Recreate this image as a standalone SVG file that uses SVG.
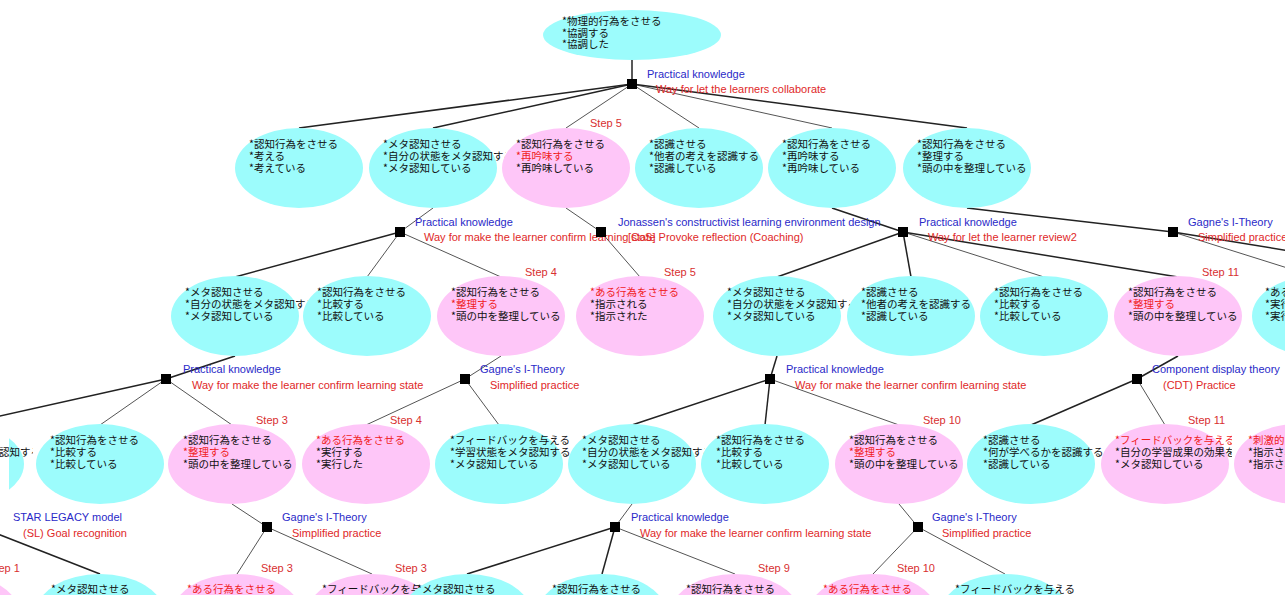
<svg xmlns="http://www.w3.org/2000/svg" width="1285" height="595" viewBox="0 0 1285 595">
<style>
.cy{fill:#9cfcfc}
.pk{fill:#fec6f8}
.t{font-family:"Noto Sans CJK JP","Noto Sans CJK SC",sans-serif;font-size:10.5px;fill:#111}
.r{fill:#f01c1c}
.lb{font-family:"Liberation Sans",Arial,sans-serif;font-size:11px;fill:#2a2ac8}
.lr{font-family:"Liberation Sans",Arial,sans-serif;font-size:11px;fill:#e02828}
.st{font-family:"Liberation Sans",Arial,sans-serif;font-size:11px;fill:#d83030}
.k{stroke:#222;stroke-width:1.5;fill:none}
.g{stroke:#555;stroke-width:1;fill:none}
.sq{fill:#000}
</style>
<defs>
<clipPath id="cA2"><rect x="383" y="128" width="123" height="80"/></clipPath>
<clipPath id="cB1"><rect x="185" y="276" width="123" height="80"/></clipPath>
<clipPath id="cB5"><rect x="727" y="276" width="123" height="80"/></clipPath>
<clipPath id="cC0"><rect x="-90" y="424" width="123" height="80"/></clipPath>
<clipPath id="cC0e"><rect x="9" y="420" width="100" height="90"/></clipPath>
<clipPath id="cC5"><rect x="582" y="424" width="123" height="80"/></clipPath>
<clipPath id="cC9"><rect x="1115" y="424" width="117" height="80"/></clipPath>
</defs>

<g id="connectors">
<path class="k" d="M632 60L632 84"/>
<path class="k" d="M632 84L299 128"/>
<path class="k" d="M632 84L433 128"/>
<path class="g" d="M632 84L566 128"/>
<path class="g" d="M632 84L699 128"/>
<path class="g" d="M632 84L832 128"/>
<path class="k" d="M632 84L967 128"/>
<path class="g" d="M433 208L400 232"/>
<path class="g" d="M566 208L601 232"/>
<path class="k" d="M832 208L903 232"/>
<path class="k" d="M967 208L1173 232"/>
<path class="k" d="M400 232L235 277"/>
<path class="g" d="M400 232L367 277"/>
<path class="g" d="M400 232L501 277"/>
<path class="g" d="M601 232L640 277"/>
<path class="k" d="M903 232L777 277"/>
<path class="k" d="M903 232L911 277"/>
<path class="g" d="M903 232L1044 277"/>
<path class="k" d="M903 232L1178 277"/>
<path class="g" d="M1173 232L1316 277"/>
<path class="k" d="M1173 232L1450 277"/>
<path class="k" d="M235 356L166 379"/>
<path class="g" d="M501 356L465 379"/>
<path class="k" d="M777 356L770 379"/>
<path class="k" d="M1178 356L1137 379"/>
<path class="k" d="M166 379L-40 425"/>
<path class="g" d="M166 379L100 425"/>
<path class="g" d="M166 379L232 425"/>
<path class="g" d="M465 379L366 425"/>
<path class="g" d="M465 379L499 425"/>
<path class="k" d="M770 379L632 425"/>
<path class="k" d="M770 379L765 425"/>
<path class="g" d="M770 379L899 425"/>
<path class="k" d="M1137 379L1031 425"/>
<path class="g" d="M1137 379L1165 425"/>
<path class="g" d="M232 504L267 527"/>
<path class="g" d="M632 504L615 527"/>
<path class="g" d="M899 504L918 527"/>
<path class="k" d="M-20 527L100 574"/>
<path class="g" d="M267 527L237 574"/>
<path class="g" d="M267 527L372 574"/>
<path class="k" d="M615 527L467 574"/>
<path class="k" d="M615 527L602 574"/>
<path class="g" d="M615 527L735 574"/>
<path class="g" d="M918 527L873 574"/>
<path class="g" d="M918 527L1005 574"/>
</g>

<g id="relations">
<g id="S0"><rect class="sq" x="627" y="79" width="10" height="10"/><text class="lb" x="647" y="78">Practical knowledge</text><text class="lr" x="656" y="93">Way for let the learners collaborate</text></g>
<g id="S1"><rect class="sq" x="395" y="227" width="10" height="10"/><text class="lb" x="415" y="226">Practical knowledge</text><text class="lr" x="424" y="241">Way for make the learner confirm learning state</text></g>
<g id="S2"><rect class="sq" x="596" y="227" width="10" height="10"/><text class="lb" x="618" y="226">Jonassen's constructivist learning environment design</text><text class="lr" x="628" y="241">[CoS] Provoke reflection (Coaching)</text></g>
<g id="S3"><rect class="sq" x="898" y="227" width="10" height="10"/><text class="lb" x="919" y="226">Practical knowledge</text><text class="lr" x="928" y="241">Way for let the learner review2</text></g>
<g id="S4"><rect class="sq" x="1168" y="227" width="10" height="10"/><text class="lb" x="1188" y="226">Gagne's I-Theory</text><text class="lr" x="1198" y="241">Simplified practice</text></g>
<g id="S5"><rect class="sq" x="161" y="374" width="10" height="10"/><text class="lb" x="183" y="373">Practical knowledge</text><text class="lr" x="192" y="389">Way for make the learner confirm learning state</text></g>
<g id="S6"><rect class="sq" x="460" y="374" width="10" height="10"/><text class="lb" x="480" y="373">Gagne's I-Theory</text><text class="lr" x="490" y="389">Simplified practice</text></g>
<g id="S7"><rect class="sq" x="765" y="374" width="10" height="10"/><text class="lb" x="786" y="373">Practical knowledge</text><text class="lr" x="795" y="389">Way for make the learner confirm learning state</text></g>
<g id="S8"><rect class="sq" x="1132" y="374" width="10" height="10"/><text class="lb" x="1152" y="373">Component display theory</text><text class="lr" x="1163" y="389">(CDT) Practice</text></g>
<g id="SL"><text class="lb" x="13" y="521">STAR LEGACY model</text><text class="lr" x="23" y="537">(SL) Goal recognition</text></g>
<g id="S9"><rect class="sq" x="262" y="522" width="10" height="10"/><text class="lb" x="282" y="521">Gagne's I-Theory</text><text class="lr" x="292" y="537">Simplified practice</text></g>
<g id="S10"><rect class="sq" x="610" y="522" width="10" height="10"/><text class="lb" x="631" y="521">Practical knowledge</text><text class="lr" x="640" y="537">Way for make the learner confirm learning state</text></g>
<g id="S11"><rect class="sq" x="913" y="522" width="10" height="10"/><text class="lb" x="932" y="521">Gagne's I-Theory</text><text class="lr" x="942" y="537">Simplified practice</text></g>
</g>

<g id="nodes">
<g id="T"><ellipse class="cy" cx="632" cy="35" rx="89" ry="25"/><text class="t"><tspan x="562" y="25">*物理的行為をさせる</tspan><tspan x="562" y="36.5">*協調する</tspan><tspan x="562" y="48">*協調した</tspan></text></g>

<g id="A1"><ellipse class="cy" cx="299" cy="168" rx="64" ry="40"/><text class="t"><tspan x="249" y="148">*認知行為をさせる</tspan><tspan x="249" y="160">*考える</tspan><tspan x="249" y="172">*考えている</tspan></text></g>
<g id="A2"><ellipse class="cy" cx="433" cy="168" rx="64" ry="40"/><text class="t" clip-path="url(#cA2)"><tspan x="383" y="148">*メタ認知させる</tspan><tspan x="383" y="160">*自分の状態をメタ認知する</tspan><tspan x="383" y="172">*メタ認知している</tspan></text></g>
<g id="A3"><ellipse class="pk" cx="566" cy="168" rx="64" ry="40"/><text class="st" x="590" y="127">Step 5</text><text class="t"><tspan x="516" y="148">*認知行為をさせる</tspan><tspan x="516" y="160" class="r">*再吟味する</tspan><tspan x="516" y="172">*再吟味している</tspan></text></g>
<g id="A4"><ellipse class="cy" cx="699" cy="168" rx="64" ry="40"/><text class="t"><tspan x="649" y="148">*認識させる</tspan><tspan x="649" y="160">*他者の考えを認識する</tspan><tspan x="649" y="172">*認識している</tspan></text></g>
<g id="A5"><ellipse class="cy" cx="832" cy="168" rx="64" ry="40"/><text class="t"><tspan x="782" y="148">*認知行為をさせる</tspan><tspan x="782" y="160">*再吟味する</tspan><tspan x="782" y="172">*再吟味している</tspan></text></g>
<g id="A6"><ellipse class="cy" cx="967" cy="168" rx="64" ry="40"/><text class="t"><tspan x="917" y="148">*認知行為をさせる</tspan><tspan x="917" y="160">*整理する</tspan><tspan x="917" y="172">*頭の中を整理している</tspan></text></g>

<g id="B1"><ellipse class="cy" cx="235" cy="316" rx="64" ry="40"/><text class="t" clip-path="url(#cB1)"><tspan x="185" y="296">*メタ認知させる</tspan><tspan x="185" y="308">*自分の状態をメタ認知する</tspan><tspan x="185" y="320">*メタ認知している</tspan></text></g>
<g id="B2"><ellipse class="cy" cx="367" cy="316" rx="64" ry="40"/><text class="t"><tspan x="317" y="296">*認知行為をさせる</tspan><tspan x="317" y="308">*比較する</tspan><tspan x="317" y="320">*比較している</tspan></text></g>
<g id="B3"><ellipse class="pk" cx="501" cy="316" rx="64" ry="40"/><text class="st" x="525" y="276">Step 4</text><text class="t"><tspan x="451" y="296">*認知行為をさせる</tspan><tspan x="451" y="308" class="r">*整理する</tspan><tspan x="451" y="320">*頭の中を整理している</tspan></text></g>
<g id="B4"><ellipse class="pk" cx="640" cy="316" rx="64" ry="40"/><text class="st" x="664" y="276">Step 5</text><text class="t"><tspan x="590" y="296" class="r">*ある行為をさせる</tspan><tspan x="590" y="308">*指示される</tspan><tspan x="590" y="320">*指示された</tspan></text></g>
<g id="B5"><ellipse class="cy" cx="777" cy="316" rx="64" ry="40"/><text class="t" clip-path="url(#cB5)"><tspan x="727" y="296">*メタ認知させる</tspan><tspan x="727" y="308">*自分の状態をメタ認知する</tspan><tspan x="727" y="320">*メタ認知している</tspan></text></g>
<g id="B6"><ellipse class="cy" cx="911" cy="316" rx="64" ry="40"/><text class="t"><tspan x="861" y="296">*認識させる</tspan><tspan x="861" y="308">*他者の考えを認識する</tspan><tspan x="861" y="320">*認識している</tspan></text></g>
<g id="B7"><ellipse class="cy" cx="1044" cy="316" rx="64" ry="40"/><text class="t"><tspan x="994" y="296">*認知行為をさせる</tspan><tspan x="994" y="308">*比較する</tspan><tspan x="994" y="320">*比較している</tspan></text></g>
<g id="B8"><ellipse class="pk" cx="1178" cy="316" rx="64" ry="40"/><text class="st" x="1202" y="276">Step 11</text><text class="t"><tspan x="1128" y="296">*認知行為をさせる</tspan><tspan x="1128" y="308" class="r">*整理する</tspan><tspan x="1128" y="320">*頭の中を整理している</tspan></text></g>
<g id="B9"><ellipse class="cy" cx="1316" cy="316" rx="64" ry="40"/><text class="t"><tspan x="1265" y="296">*ある行為をさせる</tspan><tspan x="1265" y="308">*実行する</tspan><tspan x="1265" y="320">*実行した</tspan></text></g>

<g id="C0"><ellipse class="cy" cx="-40" cy="464" rx="64" ry="40" clip-path="url(#cC0e)"/><text class="t" clip-path="url(#cC0)"><tspan x="-90" y="444">*メタ認知させる</tspan><tspan x="-90" y="456">*自分の状態をメタ認知する</tspan><tspan x="-90" y="468">*メタ認知している</tspan></text></g>
<g id="C1"><ellipse class="cy" cx="100" cy="464" rx="64" ry="40"/><text class="t"><tspan x="50" y="444">*認知行為をさせる</tspan><tspan x="50" y="456">*比較する</tspan><tspan x="50" y="468">*比較している</tspan></text></g>
<g id="C2"><ellipse class="pk" cx="232" cy="464" rx="64" ry="40"/><text class="st" x="256" y="424">Step 3</text><text class="t"><tspan x="183" y="444">*認知行為をさせる</tspan><tspan x="183" y="456" class="r">*整理する</tspan><tspan x="183" y="468">*頭の中を整理している</tspan></text></g>
<g id="C3"><ellipse class="pk" cx="366" cy="464" rx="64" ry="40"/><text class="st" x="390" y="424">Step 4</text><text class="t"><tspan x="316" y="444" class="r">*ある行為をさせる</tspan><tspan x="316" y="456">*実行する</tspan><tspan x="316" y="468">*実行した</tspan></text></g>
<g id="C4"><ellipse class="cy" cx="499" cy="464" rx="64" ry="40"/><text class="t"><tspan x="450" y="444">*フィードバックを与える</tspan><tspan x="450" y="456">*学習状態をメタ認知する</tspan><tspan x="450" y="468">*メタ認知している</tspan></text></g>
<g id="C5"><ellipse class="cy" cx="632" cy="464" rx="64" ry="40"/><text class="t" clip-path="url(#cC5)"><tspan x="582" y="444">*メタ認知させる</tspan><tspan x="582" y="456">*自分の状態をメタ認知する</tspan><tspan x="582" y="468">*メタ認知している</tspan></text></g>
<g id="C6"><ellipse class="cy" cx="765" cy="464" rx="64" ry="40"/><text class="t"><tspan x="716" y="444">*認知行為をさせる</tspan><tspan x="716" y="456">*比較する</tspan><tspan x="716" y="468">*比較している</tspan></text></g>
<g id="C7"><ellipse class="pk" cx="899" cy="464" rx="64" ry="40"/><text class="st" x="923" y="424">Step 10</text><text class="t"><tspan x="849" y="444">*認知行為をさせる</tspan><tspan x="849" y="456" class="r">*整理する</tspan><tspan x="849" y="468">*頭の中を整理している</tspan></text></g>
<g id="C8"><ellipse class="cy" cx="1031" cy="464" rx="64" ry="40"/><text class="t"><tspan x="983" y="444">*認識させる</tspan><tspan x="983" y="456">*何が学べるかを認識する</tspan><tspan x="983" y="468">*認識している</tspan></text></g>
<g id="C9"><ellipse class="pk" cx="1165" cy="464" rx="64" ry="40"/><text class="st" x="1188" y="424">Step 11</text><text class="t" clip-path="url(#cC9)"><tspan x="1115" y="444" class="r">*フィードバックを与える</tspan><tspan x="1115" y="456">*自分の学習成果の効果を</tspan><tspan x="1115" y="468">*メタ認知している</tspan></text></g>
<g id="C10"><ellipse class="pk" cx="1298" cy="464" rx="64" ry="40"/><text class="t"><tspan x="1248" y="444" class="r">*刺激的</tspan><tspan x="1248" y="456">*指示される</tspan><tspan x="1248" y="468">*指示された</tspan></text></g>

<g id="D0"><ellipse class="pk" cx="-45" cy="613" rx="64" ry="39"/><text class="st" x="-12" y="572">Step 1</text></g>
<g id="D1"><ellipse class="cy" cx="100" cy="613" rx="64" ry="39"/><text class="t" x="51" y="593">*メタ認知させる</text></g>
<g id="D2"><ellipse class="pk" cx="237" cy="613" rx="64" ry="39"/><text class="st" x="261" y="572">Step 3</text><text class="t r" x="187" y="593">*ある行為をさせる</text></g>
<g id="D3"><ellipse class="pk" cx="372" cy="613" rx="64" ry="39"/><text class="st" x="395" y="572">Step 3</text><text class="t" x="322" y="593">*フィードバックを与える</text></g>
<g id="D4"><ellipse class="cy" cx="467" cy="613" rx="64" ry="39"/><text class="t" x="417" y="593">*メタ認知させる</text></g>
<g id="D5"><ellipse class="cy" cx="602" cy="613" rx="64" ry="39"/><text class="t" x="552" y="593">*認知行為をさせる</text></g>
<g id="D6"><ellipse class="pk" cx="735" cy="613" rx="64" ry="39"/><text class="st" x="758" y="572">Step 9</text><text class="t" x="686" y="593">*認知行為をさせる</text></g>
<g id="D7"><ellipse class="pk" cx="873" cy="613" rx="64" ry="39"/><text class="st" x="897" y="572">Step 10</text><text class="t r" x="823" y="593">*ある行為をさせる</text></g>
<g id="D8"><ellipse class="cy" cx="1005" cy="613" rx="64" ry="39"/><text class="t" x="955" y="593">*フィードバックを与える</text></g>
</g>
</svg>
